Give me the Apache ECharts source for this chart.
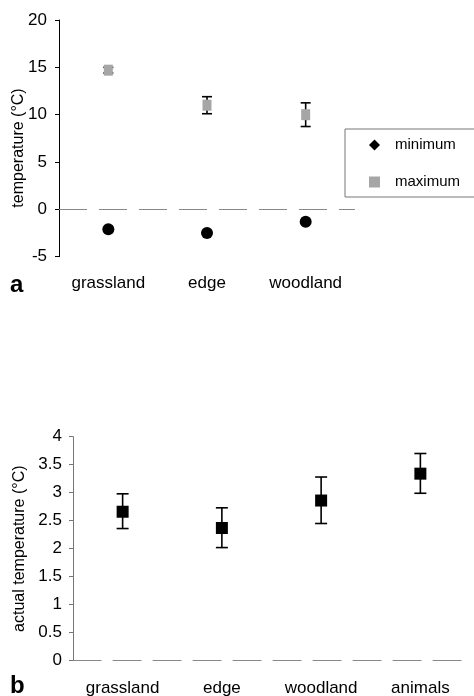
<!DOCTYPE html>
<html>
<head>
<meta charset="utf-8">
<script src="https://cdn.jsdelivr.net/npm/echarts@6/dist/echarts.min.js"></script>
<style>
html, body { margin: 0; padding: 0; background: #fff; }
#main { width: 474px; height: 696px; }
</style>
</head>
<body>
<div id="main"></div>
<script>
// panel a: min / max temperature per habitat
var habitats = ['grassland', 'edge', 'woodland'];
var minMean = [-2.1, -2.5, -1.3];
var minErr = [0.25, 0.2, 0.3];
var maxMean = [14.7, 11.0, 10.0];
var maxErr = [0.3, 0.9, 1.25];

// panel b: actual temperature
var actualCats = ['grassland', 'edge', 'woodland', 'animals'];
var actualMean = [2.66, 2.37, 2.86, 3.34];
var actualLow = [2.36, 2.02, 2.45, 2.99];
var actualHigh = [2.98, 2.73, 3.28, 3.70];

var font = 'Liberation Sans, Arial, sans-serif';

function errData(means, errs) {
    return means.map(function (m, i) { return [i, m - errs[i], m + errs[i]]; });
}
function errBars(capW) {
    return function (params, api) {
        var x = api.value(0);
        var lo = api.coord([x, api.value(1)]);
        var hi = api.coord([x, api.value(2)]);
        var st = { stroke: '#000', lineWidth: 1.6 };
        return {
            type: 'group',
            children: [
                { type: 'line', shape: { x1: lo[0], y1: lo[1], x2: hi[0], y2: hi[1] }, style: st },
                { type: 'line', shape: { x1: lo[0] - capW, y1: lo[1], x2: lo[0] + capW, y2: lo[1] }, style: st },
                { type: 'line', shape: { x1: hi[0] - capW, y1: hi[1], x2: hi[0] + capW, y2: hi[1] }, style: st }
            ]
        };
    };
}

var labelStyle = { fontSize: 17, color: '#000', fontFamily: font };

var option = {
    animation: false,
    textStyle: { fontFamily: font },
    grid: [
        { left: 59, top: 20, width: 296, height: 236.7, outerBoundsMode: 'none', containLabel: false },
        { left: 73, top: 436.7, width: 397, height: 224, outerBoundsMode: 'none', containLabel: false }
    ],
    legend: {
        orient: 'vertical',
        left: 345,
        top: 129,
        padding: [8, 40, 7, 24],
        itemGap: 21,
        itemWidth: 11,
        itemHeight: 11,
        borderColor: '#777',
        borderWidth: 1,
        textStyle: { fontSize: 15, lineHeight: 16, color: '#000', fontFamily: font, padding: [0, 0, 0, 10] },
        data: [
            { name: 'minimum', icon: 'diamond', itemStyle: { opacity: 1 } },
            { name: 'maximum', icon: 'rect', itemStyle: { opacity: 1 } }
        ]
    },
    xAxis: [
        {
            gridIndex: 0, type: 'category', data: habitats,
            axisLine: { show: false }, axisTick: { show: false },
            axisLabel: Object.assign({ margin: 18 }, labelStyle)
        },
        {
            gridIndex: 1, type: 'category', data: actualCats,
            axisLine: { lineStyle: { color: '#888', type: [28, 12], width: 1 } },
            axisTick: { show: false },
            axisLabel: Object.assign({ margin: 19 }, labelStyle)
        }
    ],
    yAxis: [
        {
            gridIndex: 0, type: 'value', min: -5, max: 20, interval: 5,
            splitLine: { show: false },
            axisLine: { show: true, lineStyle: { color: '#000' } },
            axisTick: { show: true, length: 4, lineStyle: { color: '#000' } },
            axisLabel: Object.assign({ margin: 12 }, labelStyle)
        },
        {
            gridIndex: 1, type: 'value', min: 0, max: 4, interval: 0.5,
            splitLine: { show: false },
            axisLine: { show: true, lineStyle: { color: '#777' } },
            axisTick: { show: true, length: 4, lineStyle: { color: '#777' } },
            axisLabel: Object.assign({ margin: 11 }, labelStyle),
            name: 'actual temperature (°C)', nameLocation: 'middle', nameRotate: 90, nameGap: 45,
            nameTextStyle: { fontSize: 16, color: '#000', fontFamily: font }
        }
    ],
    series: [
        {
            type: 'custom', xAxisIndex: 0, yAxisIndex: 0, z: 1,
            renderItem: errBars(4), data: errData(minMean, minErr)
        },
        {
            type: 'custom', xAxisIndex: 0, yAxisIndex: 0, z: 1,
            renderItem: errBars(5), data: errData(maxMean, maxErr)
        },
        {
            name: 'minimum', type: 'scatter', xAxisIndex: 0, yAxisIndex: 0, z: 3,
            symbol: 'circle', symbolSize: 12,
            itemStyle: { color: '#000', opacity: 1 },
            data: minMean,
            markLine: {
                silent: true, symbol: 'none', label: { show: false },
                lineStyle: { color: '#888', type: [28, 12], width: 1 },
                data: [{ yAxis: 0 }]
            }
        },
        {
            name: 'maximum', type: 'scatter', xAxisIndex: 0, yAxisIndex: 0, z: 3,
            symbol: 'rect', symbolSize: [9, 11],
            itemStyle: { color: '#a6a6a6', opacity: 1 },
            data: maxMean
        },
        {
            type: 'custom', xAxisIndex: 1, yAxisIndex: 1, z: 1,
            renderItem: errBars(6),
            data: actualMean.map(function (m, i) { return [i, actualLow[i], actualHigh[i]]; })
        },
        {
            name: 'actual', type: 'scatter', xAxisIndex: 1, yAxisIndex: 1, z: 3,
            symbol: 'rect', symbolSize: 12,
            itemStyle: { color: '#000', opacity: 1 },
            data: actualMean
        }
    ],
    graphic: [
        {
            type: 'text', x: 19, y: 148, rotation: Math.PI / 2,
            style: { text: 'temperature (°C)', font: '16px ' + font, fill: '#000', align: 'center', verticalAlign: 'middle' }
        },
        { type: 'text', left: 10, top: 273, style: { text: 'a', font: 'bold 24px ' + font, fill: '#000' } },
        { type: 'text', left: 10, top: 674, style: { text: 'b', font: 'bold 24px ' + font, fill: '#000' } }
    ]
};

var myChart = echarts.init(document.getElementById('main'));
myChart.setOption(option);
</script>
</body>
</html>
